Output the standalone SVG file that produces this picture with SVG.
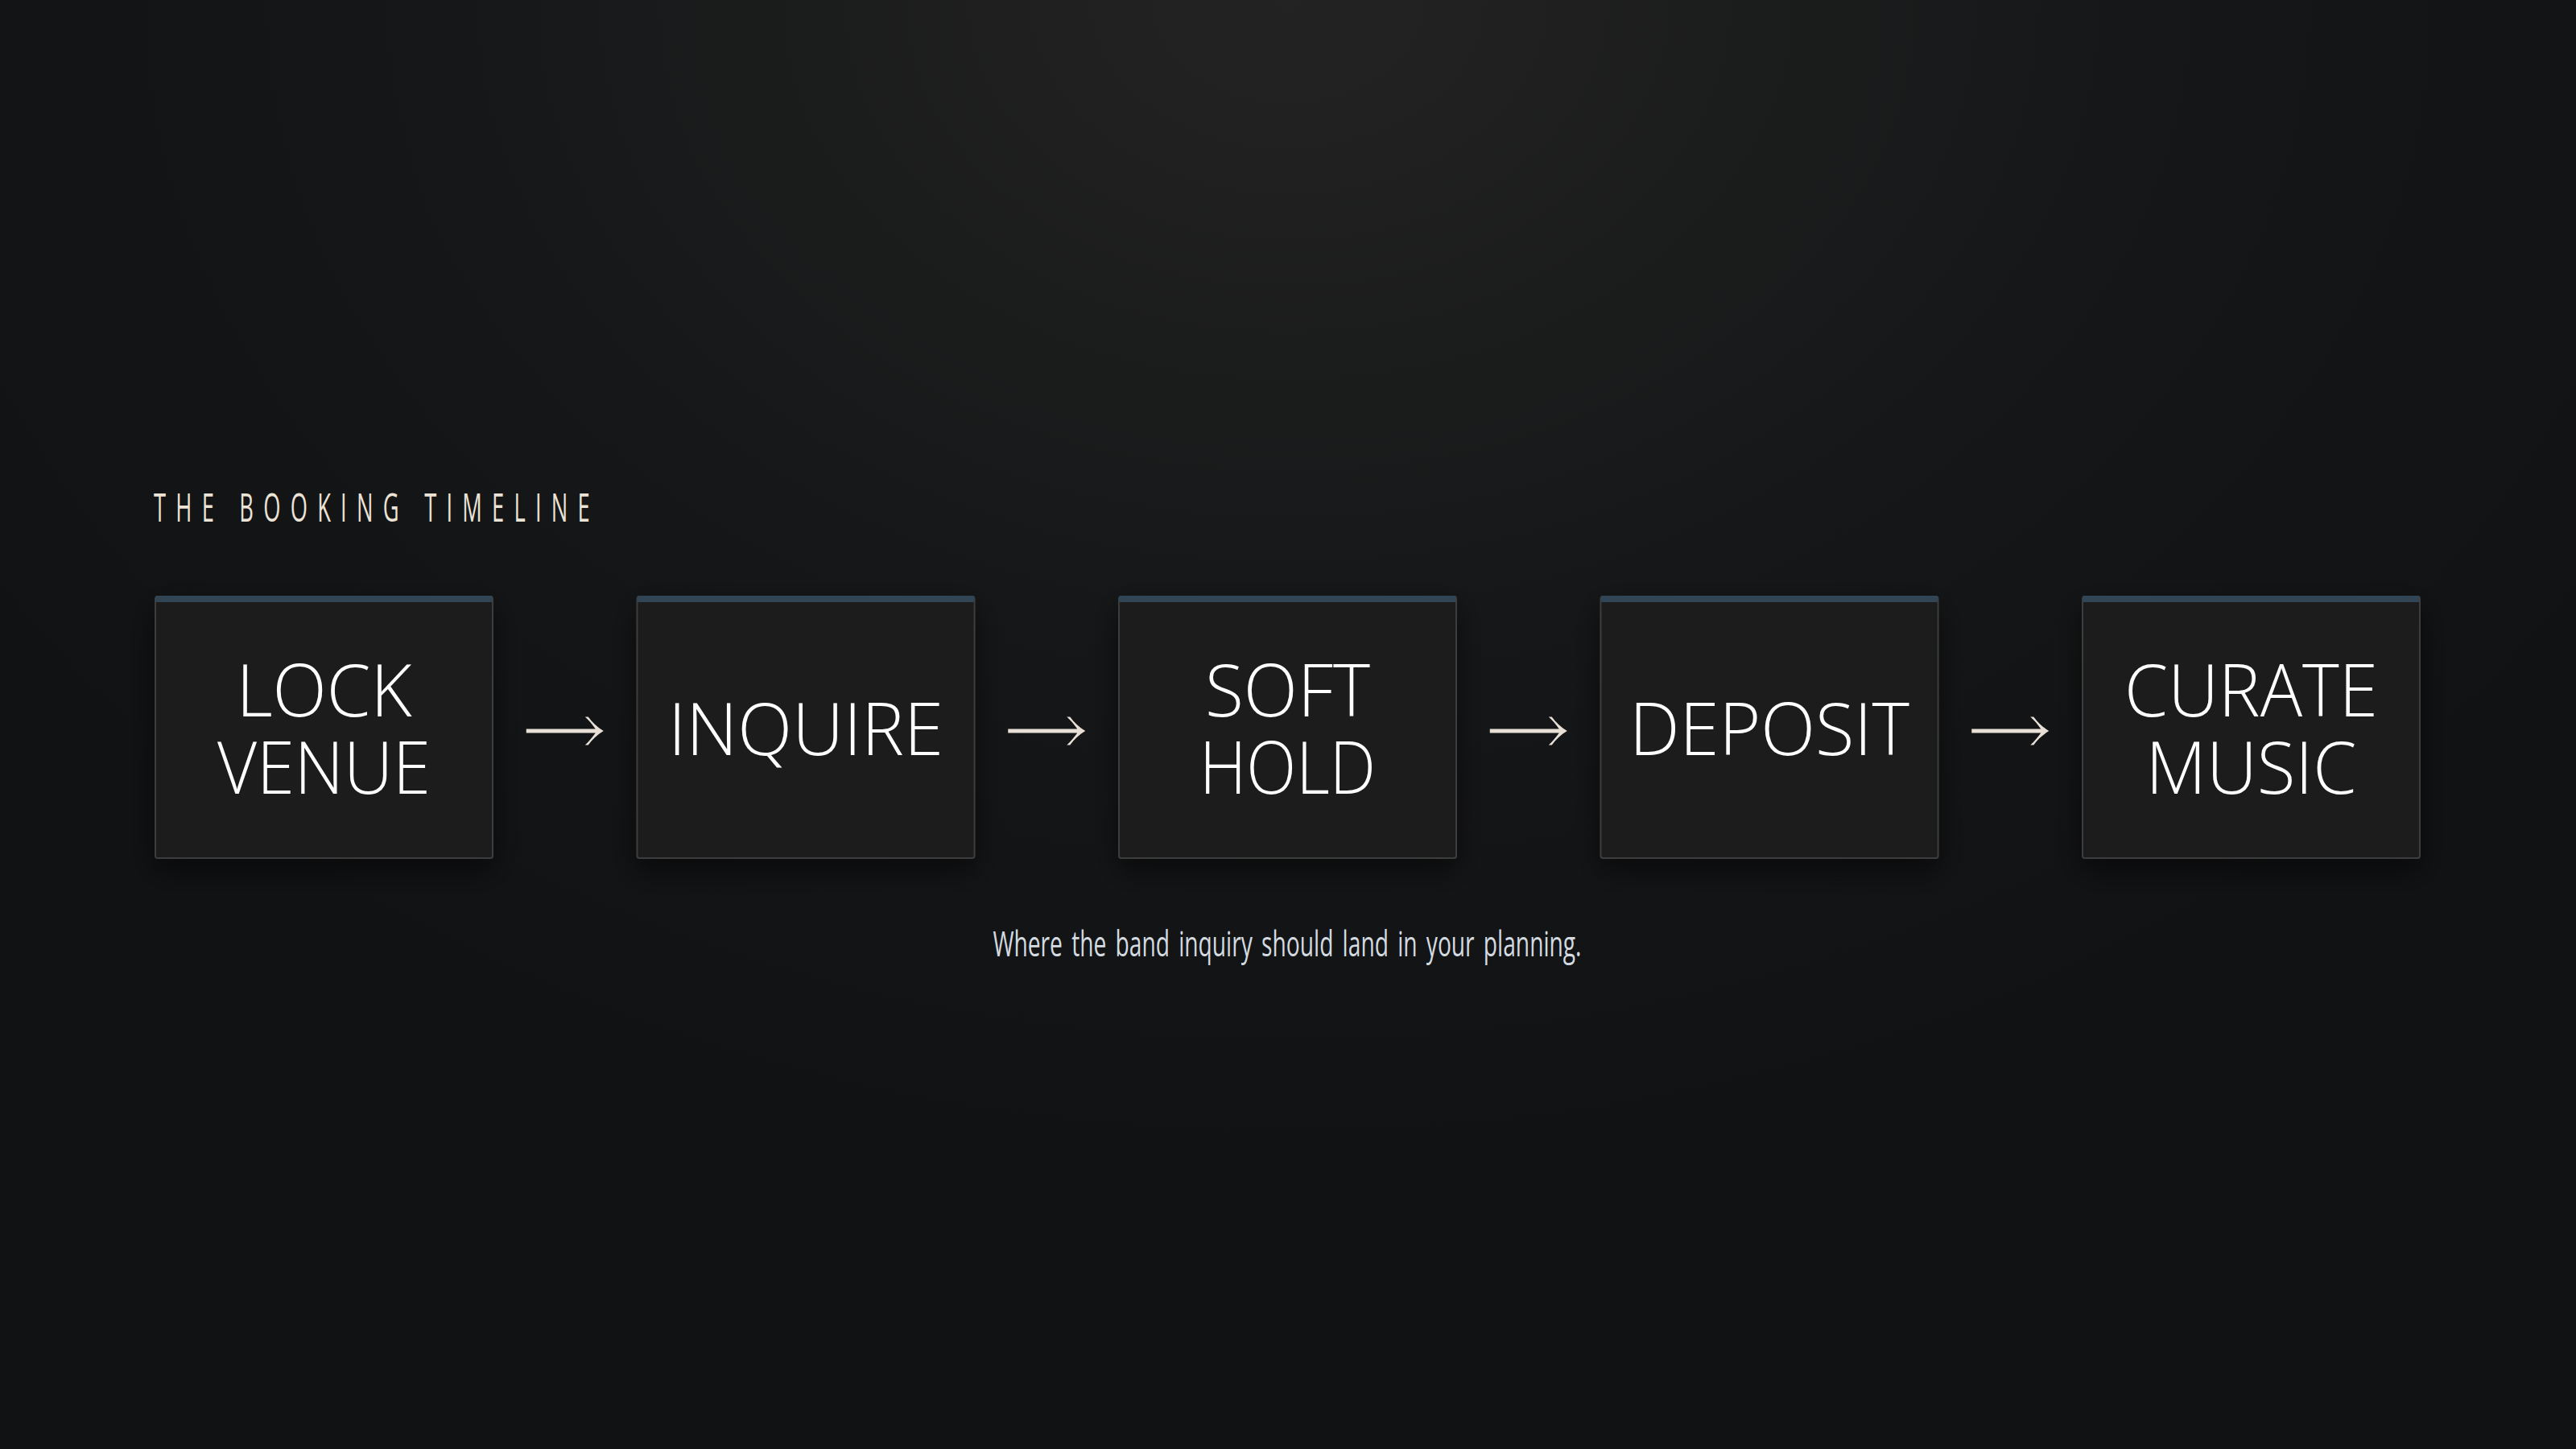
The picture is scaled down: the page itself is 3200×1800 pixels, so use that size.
<svg xmlns="http://www.w3.org/2000/svg" width="3200" height="1800" viewBox="0 0 3200 1800">
  <defs>
    <radialGradient id="bg" cx="1600" cy="0" r="1900" gradientUnits="userSpaceOnUse" gradientTransform="translate(1600 0) scale(1 0.75) translate(-1600 0)">
      <stop offset="0" stop-color="#232323"/>
      <stop offset="0.55" stop-color="#161718"/>
      <stop offset="1" stop-color="#111214"/>
    </radialGradient>
    <filter id="shadow" x="-20%" y="-20%" width="140%" height="150%">
      <feDropShadow dx="0" dy="14" stdDeviation="18" flood-color="#000000" flood-opacity="0.55"/>
    </filter>
    <style>
      .card { fill: #1b1b1b; stroke: #3e3e3e; stroke-width: 2; }
      .bar { fill: #314554; }
      .label { font-family: "Open Sans", "Noto Sans", "DejaVu Sans", sans-serif; font-weight: 300; font-size: 90px; fill: #ffffff; text-anchor: middle; }
      .arrow { fill: #e8e0d6; }
      .heading { font-family: "Open Sans", "Noto Sans", "DejaVu Sans", sans-serif; font-weight: 400; font-size: 49px; fill: #ebe3d6; letter-spacing: 22px; }
      .sub { font-family: "Open Sans", "Noto Sans", "DejaVu Sans", sans-serif; font-weight: 400; font-size: 43px; fill: #d4dbe0; text-anchor: middle; word-spacing: 6px; }
    </style>
    <path id="arr" d="M -48,-2.6 L 38,-2.6 C 34,-8 30,-13 25,-17.5 L 29,-17.5 C 34,-10.5 40,-5 48,0 C 40,5 34,10.5 29,17.5 L 25,17.5 C 30,13 34,8 38,2.6 L -48,2.6 Z"/>
  </defs>

  <rect x="0" y="0" width="3200" height="1800" fill="url(#bg)"/>

  <text id="title" class="heading" x="191" y="648" textLength="554" lengthAdjust="spacingAndGlyphs">THE BOOKING TIMELINE</text>

  <g id="node-lock-venue">
    <rect class="card" x="193" y="741" width="419" height="325" rx="3" filter="url(#shadow)"/>
    <rect class="bar" x="193" y="740" width="419" height="8" rx="2"/>
    <text class="label"><tspan x="402.5" y="890" textLength="218" lengthAdjust="spacingAndGlyphs">LOCK</tspan><tspan x="402.5" y="986" textLength="265" lengthAdjust="spacingAndGlyphs">VENUE</tspan></text>
  </g>

  <g id="node-inquire">
    <rect class="card" x="791.5" y="741" width="419" height="325" rx="3" filter="url(#shadow)"/>
    <rect class="bar" x="791.5" y="740" width="419" height="8" rx="2"/>
    <text class="label" x="1001" y="938" textLength="342" lengthAdjust="spacingAndGlyphs">INQUIRE</text>
  </g>

  <g id="node-soft-hold">
    <rect class="card" x="1390" y="741" width="419" height="325" rx="3" filter="url(#shadow)"/>
    <rect class="bar" x="1390" y="740" width="419" height="8" rx="2"/>
    <text class="label"><tspan x="1599.5" y="890" textLength="205" lengthAdjust="spacingAndGlyphs">SOFT</tspan><tspan x="1599.5" y="986" textLength="219" lengthAdjust="spacingAndGlyphs">HOLD</tspan></text>
  </g>

  <g id="node-deposit">
    <rect class="card" x="1988.5" y="741" width="419" height="325" rx="3" filter="url(#shadow)"/>
    <rect class="bar" x="1988.5" y="740" width="419" height="8" rx="2"/>
    <text class="label" x="2198" y="938" textLength="348" lengthAdjust="spacingAndGlyphs">DEPOSIT</text>
  </g>

  <g id="node-curate-music">
    <rect class="card" x="2587" y="741" width="419" height="325" rx="3" filter="url(#shadow)"/>
    <rect class="bar" x="2587" y="740" width="419" height="8" rx="2"/>
    <text class="label"><tspan x="2796.5" y="890" textLength="315" lengthAdjust="spacingAndGlyphs">CURATE</tspan><tspan x="2796.5" y="986" textLength="262" lengthAdjust="spacingAndGlyphs">MUSIC</tspan></text>
  </g>

  <g id="connectors">
    <use href="#arr" class="arrow" transform="translate(701.75 908)"/>
    <use href="#arr" class="arrow" transform="translate(1300.25 908)"/>
    <use href="#arr" class="arrow" transform="translate(1898.75 908)"/>
    <use href="#arr" class="arrow" transform="translate(2497.25 908)"/>
  </g>

  <text id="caption" class="sub" x="1599" y="1188" textLength="731" lengthAdjust="spacingAndGlyphs">Where the band inquiry should land in your planning.</text>
</svg>
